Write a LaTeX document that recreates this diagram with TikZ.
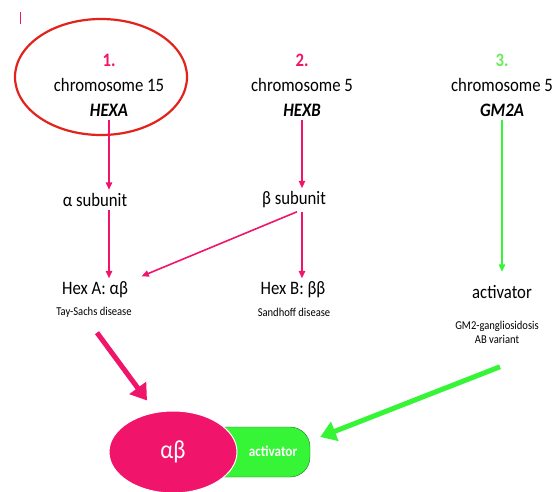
\documentclass[tikz,border=0pt]{standalone}
\usepackage{fontspec}
\setmainfont{Carlito}[FakeStretch=0.88]
\usetikzlibrary{arrows.meta, positioning, shapes.geometric}
\usepackage{xcolor}
\definecolor{hexpink}{HTML}{F0146B}
\definecolor{ringred}{HTML}{E3231B}
\definecolor{actgreen}{HTML}{36F536}
\definecolor{numgreen}{HTML}{6CEB5A}

\begin{document}
\begin{tikzpicture}[
  x=1pt, y=-1pt,
  gene/.style={align=center, font=\fontsize{19}{25}\selectfont},
  txt/.style={font=\fontsize{19}{21}\selectfont},
  note/.style={align=center, font=\fontsize{12}{14}\selectfont},
  arrow/.style={-{Triangle[length=2.6mm, width=2.2mm]}, line width=1.6pt, hexpink},
  bigarrow/.style={-{Triangle[length=5.5mm, width=7mm]}, line width=5pt}
]
\useasboundingbox (0,0) rectangle (553,491);

% top row: genes
\node[gene] (hexagene) at (109,85) {\textcolor{hexpink}{\textbf{1.}}\\chromosome 15\\\textbf{\textit{HEXA}}};
\node[gene] (hexbgene) at (302,85) {\textcolor{hexpink}{\textbf{2.}}\\chromosome 5\\\textbf{\textit{HEXB}}};
\node[gene] (gmgene) at (502,85) {\textcolor{numgreen}{\textbf{3.}}\\chromosome 5\\\textbf{\textit{GM2A}}};
\node[draw=ringred, line width=2.2pt, ellipse, minimum width=172, minimum height=116] (ring) at (101,77) {};
\draw[hexpink, line width=1pt] (20,12) -- (20,24);

% subunits
\node[txt] (asub) at (95,200) {α subunit};
\node[txt] (bsub) at (294,200) {β subunit};

% enzymes
\node[txt] (hexA) at (95,290) {Hex A: αβ};
\node[note] (tay) at (94,312) {Tay-Sachs disease};
\node[txt] (hexB) at (293,290) {Hex B: ββ};
\node[note] (sandhoff) at (294,312) {Sandhoff disease};
\node[txt] (actv) at (502,292) {activator};
\node[note] (gm2) at (497,332) {GM2-gangliosidosis\\AB variant};

\draw[arrow] (hexagene.south) -- (hexagene.south |- asub.north);
\draw[arrow] (asub.south -| hexagene) -- (hexA.north -| hexagene);
\draw[arrow] (hexbgene.south) -- (hexbgene.south |- bsub.north);
\draw[arrow] (bsub.south -| hexbgene) -- (hexB.north -| hexbgene);
\draw[arrow] ([xshift=3pt]bsub.south) -- ([xshift=10pt, yshift=2pt]hexA.north east);
\draw[arrow, actgreen, line width=1.6pt] (gmgene) -- ([yshift=10pt]actv.north);

% complex
\node[draw=actgreen!50!black, fill=actgreen, rounded corners=20pt, minimum width=110, minimum height=50] (actbox) at (255,452) {};
\node[draw=white, line width=1pt, fill=hexpink, ellipse, minimum width=128, minimum height=82] (dimer) at (173,452) {};
\node[white, font=\fontsize{26}{28}\selectfont] at (dimer) {αβ};
\node[white, font=\bfseries\fontsize{15}{17}\selectfont] (acttext) at (273,451) {activator};

\draw[bigarrow, hexpink] ([xshift=3pt, yshift=-12pt]tay.south) -- ([xshift=-26pt, yshift=10pt]dimer.north);
\draw[bigarrow, actgreen] ([xshift=3pt, yshift=-20pt]gm2.south) -- ([xshift=10pt, yshift=15pt]actbox.east);

\end{tikzpicture}
\end{document}
